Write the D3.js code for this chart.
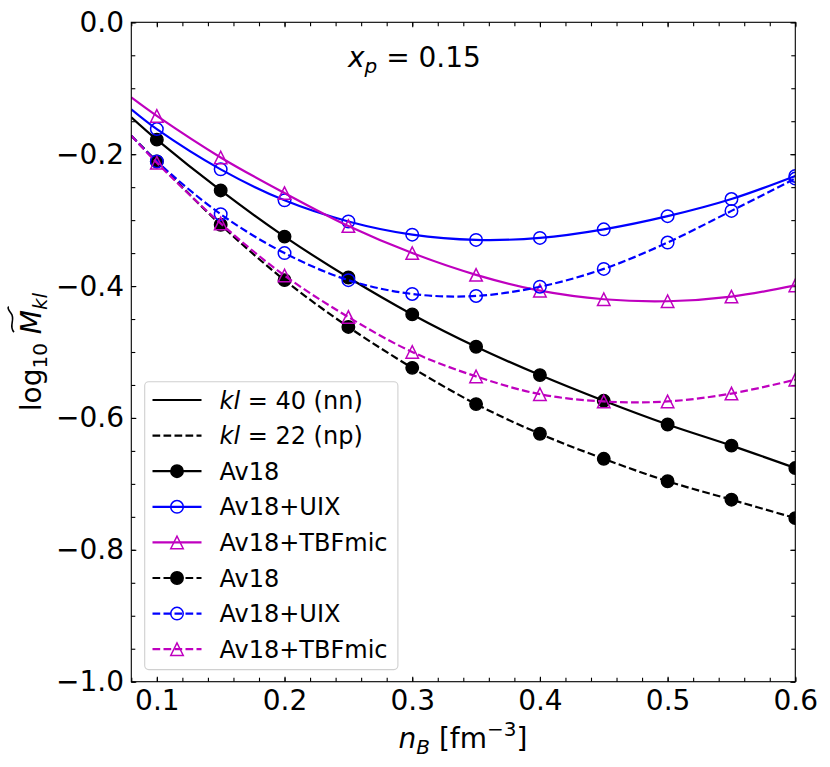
<!DOCTYPE html>
<html>
<head>
<meta charset="utf-8">
<script src="https://cdn.jsdelivr.net/npm/d3@7"></script>
<style>
  body { margin: 0; background: #fff; }
  text { font-family: "DejaVu Sans", sans-serif; }
</style>
</head>
<body>
<div id="app"></div>
<script>
// density grid (first point only sets where the curve starts, no marker)
const nB = [0.08, 0.1, 0.15, 0.2, 0.25, 0.3, 0.35, 0.4, 0.45, 0.5, 0.55, 0.6];

// kl = 40 (nn)
const av18NN = [-0.144, -0.178, -0.255, -0.325, -0.387, -0.443, -0.492, -0.535, -0.574, -0.610, -0.642, -0.676];
const uixNN  = [-0.132, -0.162, -0.223, -0.270, -0.302, -0.322, -0.330, -0.327, -0.314, -0.294, -0.268, -0.233];
const tbfNN  = [-0.114, -0.142, -0.205, -0.259, -0.309, -0.350, -0.383, -0.407, -0.420, -0.423, -0.416, -0.399];

// kl = 22 (np)
const av18NP = [-0.172, -0.211, -0.307, -0.391, -0.462, -0.524, -0.579, -0.624, -0.662, -0.696, -0.724, -0.752];
const uixNP  = [-0.172, -0.211, -0.291, -0.350, -0.391, -0.412, -0.415, -0.401, -0.374, -0.334, -0.286, -0.237];
const tbfNP  = [-0.172, -0.213, -0.305, -0.384, -0.447, -0.500, -0.537, -0.564, -0.575, -0.575, -0.563, -0.542];

const xTicks = [0.1, 0.2, 0.3, 0.4, 0.5, 0.6];
const yTicks = [-1.0, -0.8, -0.6, -0.4, -0.2, 0.0];

const DASH = "7.7,3.3";

const series = [
  { name: "Av18",       values: av18NN, color: "#000000", dash: null, marker: "dot" },
  { name: "Av18+UIX",   values: uixNN,  color: "#0000ff", dash: null, marker: "circle" },
  { name: "Av18+TBFmic",values: tbfNN,  color: "#bf00bf", dash: null, marker: "tri" },
  { name: "Av18",       values: av18NP, color: "#000000", dash: DASH, marker: "dot" },
  { name: "Av18+UIX",   values: uixNP,  color: "#0000ff", dash: DASH, marker: "circle" },
  { name: "Av18+TBFmic",values: tbfNP,  color: "#bf00bf", dash: DASH, marker: "tri" }
];

const W = 830, H = 767;
const m = { left: 131.3, top: 22.3, right: 795.3, bottom: 681.7 };

const svg = d3.select("#app").append("svg").attr("width", W).attr("height", H);

const x = d3.scaleLinear().domain([0.08, 0.6]).range([m.left, m.right]);
const y = d3.scaleLinear().domain([-1.0, 0.0]).range([m.bottom, m.top]);

//axes (ticks pointing inward on all four sides)
const fmt = d3.format(".1f");
const xMinor = d3.range(0.08, 0.6001, 0.02);
const yMinor = d3.range(-1.0, 0.0001, 0.05);

const axisLayer = svg.append("g");
const addAxis = (axis, tr, labels) => {
  const g = axisLayer.append("g").attr("transform", tr).call(axis);
  g.select(".domain").remove();
  g.selectAll(".tick line").attr("stroke", "#000").attr("stroke-width", 1.1);
  if (labels) {
    g.selectAll(".tick text").attr("fill", "#000").style("font-size", "28px");
  } else {
    g.selectAll(".tick text").remove();
  }
  return g;
};

addAxis(d3.axisBottom(x).tickValues(xTicks).tickFormat(fmt).tickSize(-5).tickSizeOuter(0).tickPadding(8.4),
  `translate(0,${m.bottom})`, true);
addAxis(d3.axisBottom(x).tickValues(xMinor).tickSize(-4).tickSizeOuter(0), `translate(0,${m.bottom})`, false);
addAxis(d3.axisTop(x).tickValues(xMinor).tickSize(-4).tickSizeOuter(0), `translate(0,${m.top})`, false);
addAxis(d3.axisTop(x).tickValues(xTicks).tickSize(-5).tickSizeOuter(0), `translate(0,${m.top})`, false);

addAxis(d3.axisLeft(y).tickValues(yTicks).tickFormat(fmt).tickSize(-5).tickSizeOuter(0).tickPadding(7.3),
  `translate(${m.left},0)`, true);
addAxis(d3.axisLeft(y).tickValues(yMinor).tickSize(-4).tickSizeOuter(0), `translate(${m.left},0)`, false);
addAxis(d3.axisRight(y).tickValues(yMinor).tickSize(-4).tickSizeOuter(0), `translate(${m.right},0)`, false);
addAxis(d3.axisRight(y).tickValues(yTicks).tickSize(-5).tickSizeOuter(0), `translate(${m.right},0)`, false);

//clip for curves
svg.append("clipPath").attr("id", "clip").append("rect")
  .attr("x", m.left).attr("y", m.top)
  .attr("width", m.right - m.left).attr("height", m.bottom - m.top);

const line = d3.line()
  .x((d) => x(d[0]))
  .y((d) => y(d[1]))
  .curve(d3.curveCatmullRom.alpha(0.5));

const R = 6.25;
const drawMarker = (g, type, color, cx, cy) => {
  if (type === "dot") {
    g.append("circle").attr("cx", cx).attr("cy", cy).attr("r", R)
      .attr("fill", color).attr("stroke", color).attr("stroke-width", 1.4);
  } else if (type === "circle") {
    g.append("circle").attr("cx", cx).attr("cy", cy).attr("r", R)
      .attr("fill", "none").attr("stroke", color).attr("stroke-width", 1.5);
  } else {
    g.append("path")
      .attr("d", `M${cx},${cy - R}L${cx - R},${cy + R}L${cx + R},${cy + R}Z`)
      .attr("fill", "none").attr("stroke", color).attr("stroke-width", 1.5)
      .attr("stroke-linejoin", "miter");
  }
};

const plot = svg.append("g").attr("clip-path", "url(#clip)");
series.forEach((s) => {
  const pts = nB.map((v, i) => [v, s.values[i]]);
  const g = plot.append("g");
  g.append("path")
    .attr("d", line(pts))
    .attr("fill", "none")
    .attr("stroke", s.color)
    .attr("stroke-width", 2.2)
    .attr("stroke-dasharray", s.dash);
  pts.slice(1).forEach((p) => drawMarker(g, s.marker, s.color, x(p[0]), y(p[1])));
});

//frame
svg.append("rect")
  .attr("x", m.left).attr("y", m.top)
  .attr("width", m.right - m.left).attr("height", m.bottom - m.top)
  .attr("fill", "none").attr("stroke", "#000").attr("stroke-width", 1.1);

//annotation
const ann = svg.append("text").attr("x", 348).attr("y", 67).style("font-size", "28px");
ann.append("tspan").attr("font-style", "italic").text("x");
ann.append("tspan").attr("font-style", "italic").attr("dy", 6).style("font-size", "20px").text("p");
ann.append("tspan").attr("dy", -6).text(" = 0.15");

//x label
const xl = svg.append("text").attr("x", 463).attr("y", 748)
  .attr("text-anchor", "middle").style("font-size", "28px");
xl.append("tspan").attr("font-style", "italic").text("n");
xl.append("tspan").attr("font-style", "italic").attr("dy", 6).style("font-size", "20px").text("B");
xl.append("tspan").attr("dy", -6).text(" [fm");
xl.append("tspan").attr("dy", -12).style("font-size", "20px").text("\u22123");
xl.append("tspan").attr("dy", 12).text("]");

//y label
const yg = svg.append("g").attr("transform", "translate(41,352) rotate(-90)");
const yl = yg.append("text").attr("text-anchor", "middle").style("font-size", "28px");
yl.append("tspan").text("log");
yl.append("tspan").attr("dy", 6).style("font-size", "20px").text("10");
yl.append("tspan").attr("dy", -6).text(" ");
yl.append("tspan").attr("font-style", "italic").attr("class", "mlet").text("M");
yl.append("tspan").attr("font-style", "italic").attr("dy", 6).style("font-size", "20px").text("kl");
// wide tilde over M
const mb = yl.select(".mlet").node().getExtentOfChar
  ? yl.select(".mlet").node().getExtentOfChar(0) : null;
if (mb) {
  const tx0 = mb.x + 2, tw = mb.width + 1, ty = mb.y - 3;
  yg.append("path")
    .attr("d", `M${tx0},${ty + 2} C${tx0 + tw * 0.25},${ty - 4} ${tx0 + tw * 0.5},${ty + 4} ${tx0 + tw * 0.75},${ty - 1} S${tx0 + tw},${ty - 3} ${tx0 + tw},${ty - 3}`)
    .attr("fill", "none").attr("stroke", "#000").attr("stroke-width", 1.6);
}

//legend
const legendItems = [
  { label: [["kl", true], [" = 40 (nn)", false]], color: "#000000", dash: null, marker: null },
  { label: [["kl", true], [" = 22 (np)", false]], color: "#000000", dash: DASH, marker: null }
].concat(series.map((s) => ({ label: [[s.name, false]], color: s.color, dash: s.dash, marker: s.marker })));

const lg = svg.append("g");
lg.append("rect")
  .attr("x", 144.7).attr("y", 381.8).attr("width", 253.2).attr("height", 287.8)
  .attr("rx", 4).attr("fill", "#fff").attr("fill-opacity", 0.8)
  .attr("stroke", "#d0d0d0").attr("stroke-width", 1.1);

legendItems.forEach((d, i) => {
  const cy = 400 + i * 35.6;
  lg.append("line")
    .attr("x1", 152.5).attr("x2", 201.5).attr("y1", cy).attr("y2", cy)
    .attr("stroke", d.color).attr("stroke-width", 2.2)
    .attr("stroke-dasharray", d.dash);
  if (d.marker) drawMarker(lg, d.marker, d.color, 177, cy);
  const t = lg.append("text").attr("x", 219.5).attr("y", cy + 8.6).style("font-size", "24px");
  d.label.forEach(([s, it]) => t.append("tspan").attr("font-style", it ? "italic" : null).text(s));
});
</script>
</body>
</html>
